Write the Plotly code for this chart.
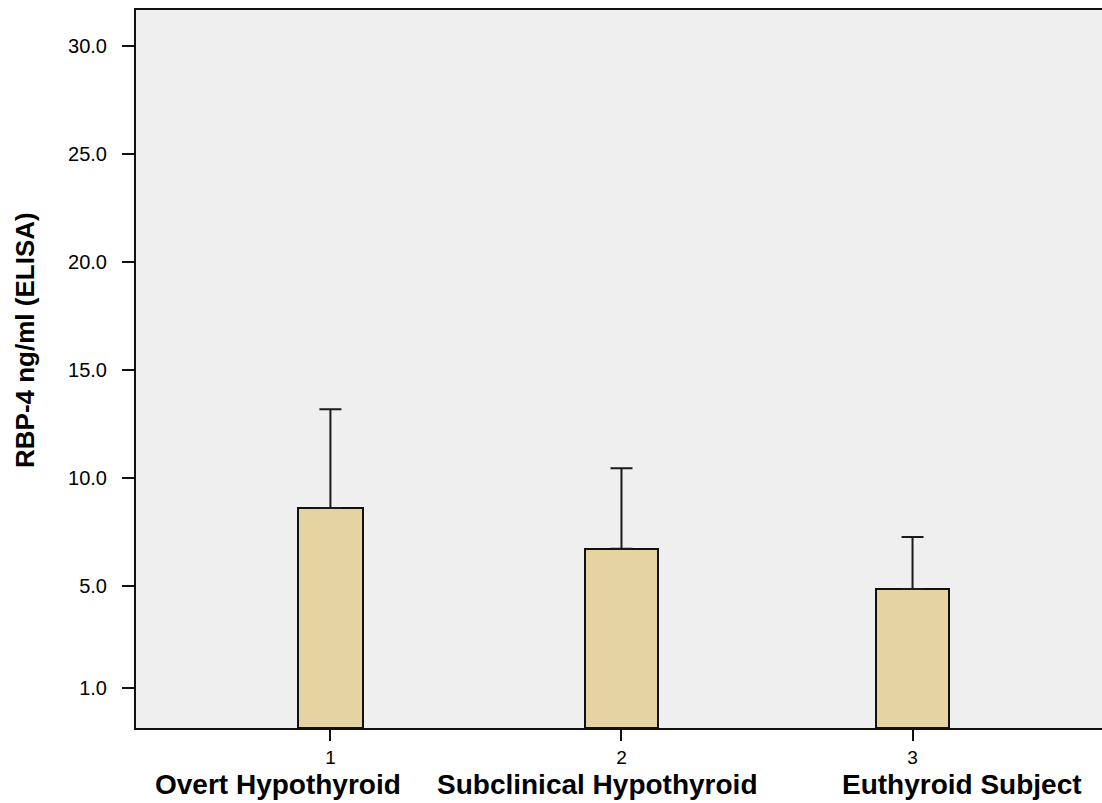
import plotly.graph_objects as go

groups = ["Overt Hypothyroid", "Subclinical Hypothyroid", "Euthyroid Subject"]
group_codes = [1, 2, 3]
mean_rbp4 = [8.61, 6.73, 4.87]
sd_rbp4 = [4.58, 3.72, 2.40]
y_tick_vals = [0.28, 5, 10, 15, 20, 25, 30]
y_tick_text = ["1.0", "5.0", "10.0", "15.0", "20.0", "25.0", "30.0"]

# label placement (paper coordinates) for the group names
label_x = [0.1465, 0.4777, 0.8550]
bar_widths = [0.222, 0.25, 0.25]

y_min, y_max = -1.57, 31.67
bar_fill = "#E5D3A1"
FONT = "Liberation Sans, Arial, sans-serif"

fig = go.Figure()
fig.add_trace(go.Bar(
    x=group_codes,
    y=[m - y_min for m in mean_rbp4],
    base=y_min,
    width=bar_widths,
    marker=dict(color=bar_fill, line=dict(color="#111111", width=2)),
    hoverinfo="skip",
    showlegend=False,
))
fig.add_trace(go.Scatter(
    x=group_codes,
    y=mean_rbp4,
    mode="markers",
    marker=dict(size=1, color="rgba(0,0,0,0)"),
    error_y=dict(type="data", array=sd_rbp4, arrayminus=[0] * len(sd_rbp4),
                 symmetric=False, color="#1a1a1a", thickness=2, width=11),
    showlegend=False,
))

for lx, name in zip(label_x, groups):
    fig.add_annotation(
        x=lx, y=-0.079, xref="paper", yref="paper",
        text="<b>" + name + "</b>", showarrow=False,
        font=dict(family=FONT, size=28, color="#000000"),
        yanchor="middle", xanchor="center",
    )

fig.add_annotation(
    x=-0.1149, y=0.5404, xref="paper", yref="paper",
    text="<b>RBP-4 ng/ml (ELISA)</b>", showarrow=False, textangle=-90,
    font=dict(family=FONT, size=26, color="#000000"),
    xanchor="center", yanchor="middle",
)

fig.update_layout(
    width=1102, height=803,
    margin=dict(l=136, r=0, t=10, b=75),
    paper_bgcolor="#ffffff",
    plot_bgcolor="#EFEFEF",
    bargap=0,
    font=dict(family=FONT, size=18, color="#000000"),
)
fig.update_xaxes(
    range=[0.332, 3.651],
    tickvals=group_codes,
    ticktext=[str(c) for c in group_codes],
    ticks="outside", ticklen=11, tickwidth=2, tickcolor="#111111",
    showline=True, linecolor="#111111", linewidth=2, mirror=True,
    showgrid=False, zeroline=False,
    ticklabelstandoff=0,
    tickfont=dict(size=19),
)
fig.update_yaxes(
    range=[y_min, y_max],
    tickvals=y_tick_vals,
    ticktext=y_tick_text,
    ticks="outside", ticklen=12, tickwidth=2, tickcolor="#111111",
    showline=True, linecolor="#111111", linewidth=2,
    showgrid=False, zeroline=False,
    ticklabelstandoff=11,
    tickfont=dict(size=20),
)

fig.write_html(
    "out.html",
    config={"displayModeBar": False},
    post_script="document.body.style.margin='0';document.body.style.overflow='hidden';",
)
